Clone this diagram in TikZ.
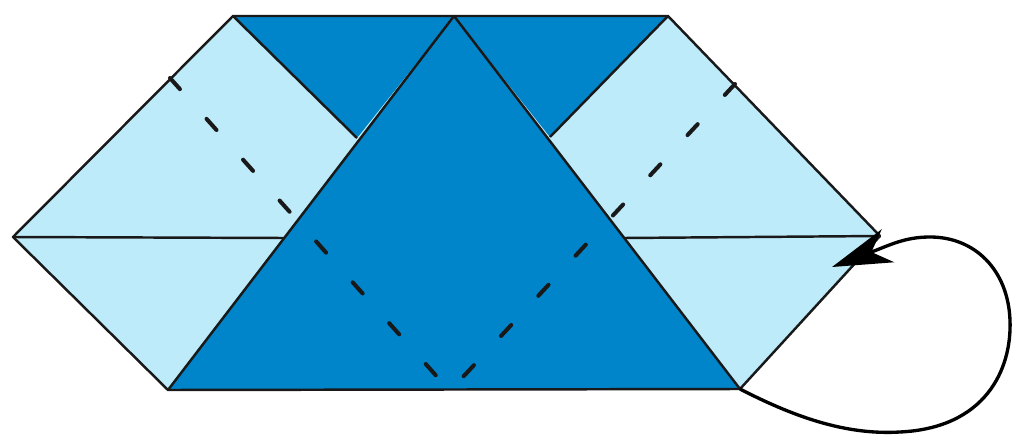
\documentclass[tikz,border=0pt]{standalone}
\usetikzlibrary{arrows.meta}
\definecolor{paperlight}{RGB}{190,235,250}
\definecolor{paperdark}{RGB}{0,132,202}
\begin{document}
\begin{tikzpicture}[x=0.02cm,y=-0.02cm,
		edge/.style={draw=black!90, line width=1.4pt, line join=round},
		crease/.style={draw=black!90, line width=2.3pt, line cap=round, dash pattern=on 8.5pt off 22.7pt},
		turnarrow/.style={draw=black, line width=1.9pt, -{Stealth[length=34pt,width=20pt,inset=10pt]}}]
			\useasboundingbox (0,0) rectangle (1012,436);
			\coordinate (l) at (13,237);
			\coordinate (tl) at (233,16);
			\coordinate (top) at (454,16);
			\coordinate (tr) at (668,16);
			\coordinate (r) at (880,236);
			\coordinate (br) at (740,389);
			\coordinate (bl) at (168,390);
			\coordinate (ml) at (357,138);
			\coordinate (mr) at (550,137);
			\coordinate (hl) at (284,238);
			\coordinate (hr) at (624,238);
			\coordinate (tickl) at (170,78);
			\coordinate (tickr) at (735,84);
			\coordinate (vl) at (440,380);
			\coordinate (vr) at (462,378);
			\coordinate (tip) at (832,267);
			\fill[paperlight] (l) -- (tl) -- (tr) -- (r) -- (br) -- (bl) -- cycle;
			\fill[paperdark] (tl) -- (top) -- (ml) -- cycle;
			\fill[paperdark] (top) -- (tr) -- (mr) -- cycle;
			\fill[paperdark] (top) -- (br) -- (bl) -- cycle;
			\draw[edge] (tl) -- (ml);
			\draw[edge] (tr) -- (mr);
			\draw[edge] (l) -- (hl);
			\draw[edge] (hr) -- (r);
			\draw[edge] (bl) -- (top) -- (br);
			\draw[edge] (l) -- (tl) -- (tr) -- (r) -- (br) -- (bl) -- cycle;
			\draw[crease] (tickl) -- (vl);
			\draw[crease] (tickr) -- (vr);
			\draw[turnarrow] (br) .. controls (800,420) and (850,435) .. (900,432) .. controls (985,428) and (1012,370) .. (1010,320) .. controls (1008,270) and (975,237) .. (930,237) .. controls (905,237) and (890,245) .. (tip);
		\end{tikzpicture}
\end{document}
